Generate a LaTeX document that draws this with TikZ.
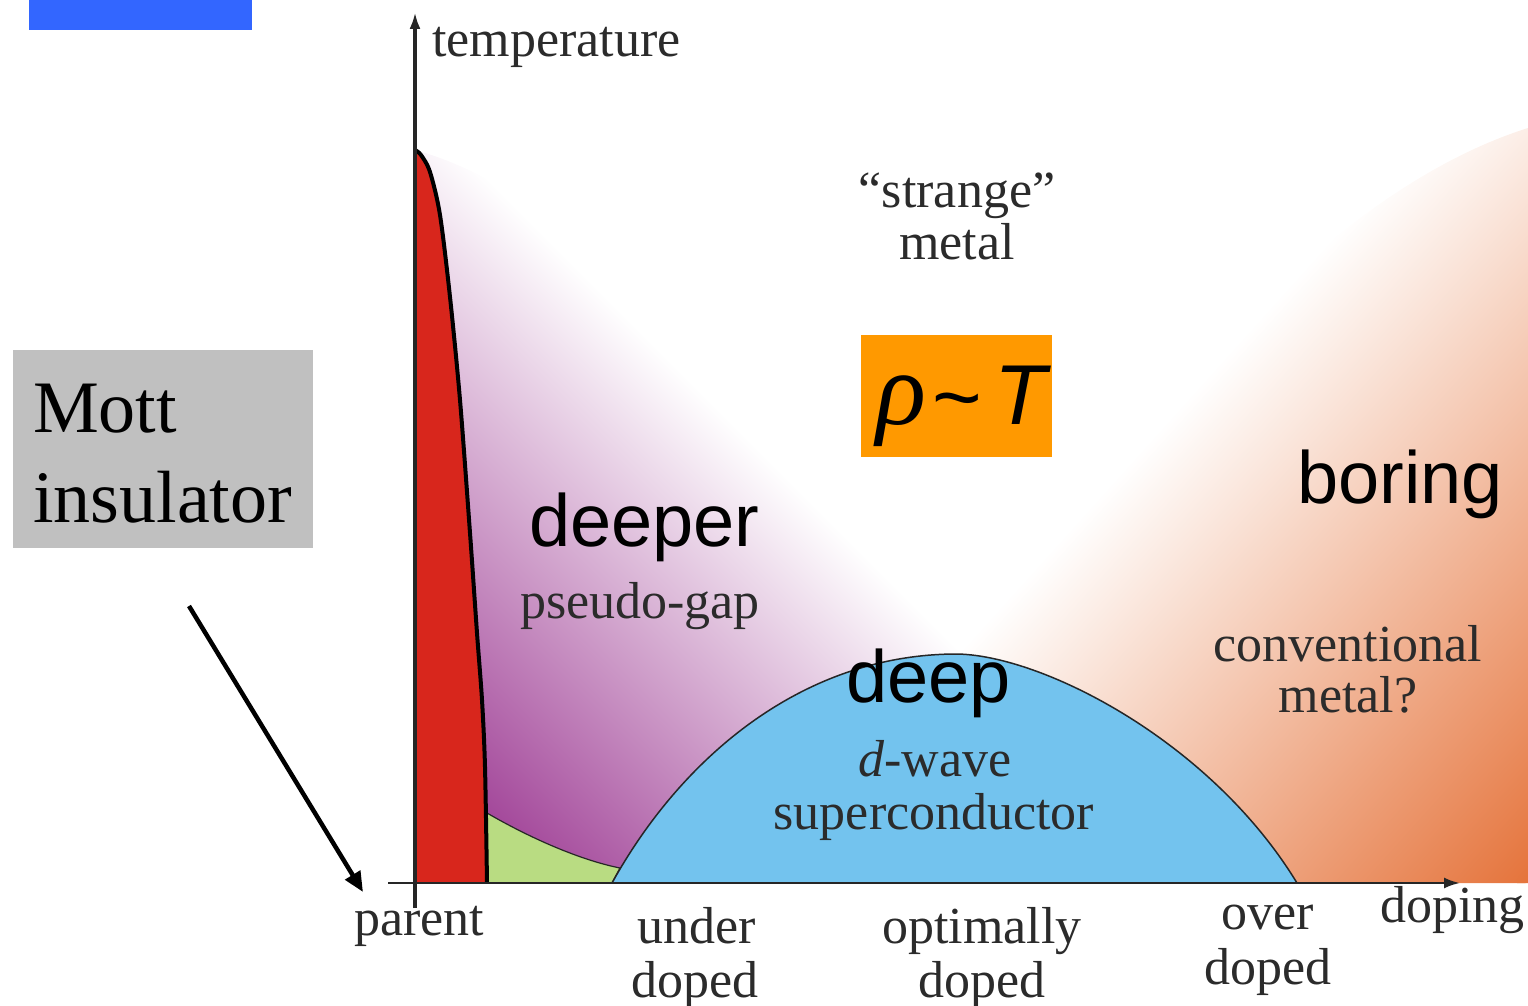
\documentclass[tikz,border=0pt]{standalone}
\usepackage{fontspec}
\setmainfont{Liberation Serif}
\newfontfamily\sansf{Liberation Sans}
\usetikzlibrary{arrows.meta}
\definecolor{blueC}{HTML}{3366FF}
\definecolor{grayC}{HTML}{C0C0C0}
\definecolor{orangeBox}{HTML}{FF9900}
\definecolor{redC}{HTML}{D8261C}
\definecolor{greenC}{HTML}{B9DC82}
\definecolor{domeC}{HTML}{73C3EE}
\definecolor{purpC}{HTML}{A3479A}
\definecolor{orC}{HTML}{E5743C}
\definecolor{txt}{HTML}{2B2B2B}
\definecolor{edgeC}{HTML}{262626}
\begin{document}
\begin{tikzpicture}[x=1pt,y=-1pt,
  figtext/.style={text=txt, font=\fontsize{52}{52}\selectfont, inner sep=0pt, anchor=base},
  bigsans/.style={font=\sansf\fontsize{74}{74}\selectfont, inner sep=0pt, anchor=base west},
  bigserif/.style={font=\fontsize{74}{74}\selectfont, inner sep=0pt, anchor=base west},
  plainbox/.style={inner sep=0pt, anchor=north west, draw=none}]
\useasboundingbox (0,0) rectangle (1528,1006);

% purple pseudo-gap region
\begin{scope}
  \clip (415,150) .. controls (600,200) and (850,480) .. (962,652) -- (962,883) -- (415,883) -- cycle;
  \fill[purpC, transform canvas={rotate around={45:(640,650)}}] (640-2200,650-1600) rectangle (640-220,650+1600);
  \shade[left color=purpC, right color=white, transform canvas={rotate around={45:(640,650)}}] (640-226,650-1600) rectangle (640+226,650+1600);
\end{scope}

% orange conventional-metal region
\begin{scope}
  \clip (955,655) .. controls (1100,480) and (1300,200) .. (1528,128) -- (1528,883) -- (955,883) -- cycle;
  \fill[orC, transform canvas={rotate around={-42:(1174,843)}}] (1174+282,843-2000) rectangle (1174+2600,843+2000);
  \shade[left color=white, right color=orC, transform canvas={rotate around={-42:(1174,843)}}] (1174-288,843-2000) rectangle (1174+288,843+2000);
\end{scope}

% green region
\filldraw[fill=greenC, draw=edgeC, line width=1.2pt] (487,813) .. controls (530,838) and (580,860) .. (620,868) -- (612,883) -- (487,883) -- cycle;

% superconducting dome
\fill[domeC] (612,883) .. controls (680,760) and (800,655) .. (955,654) .. controls (1040,654) and (1210,740) .. (1297,883) -- cycle;
\draw[edgeC, line width=1.5pt] (612,883) .. controls (680,760) and (800,655) .. (955,654) .. controls (1040,654) and (1210,740) .. (1297,883);

% red antiferromagnet region
\fill[redC] (415,150) -- (415,883) -- plot[smooth] coordinates {(487,883) (485,767) (482,700) (477,633) (470,533) (460,400) (450,297) (440,215) (430,172) (421,155) (415,150)} -- cycle;
\draw[black, line width=4pt] plot[smooth] coordinates {(487,883) (485,767) (482,700) (477,633) (470,533) (460,400) (450,297) (440,215) (430,172) (421,155) (415,150)};

% axes
\coordinate (xa0) at (388,883);
\coordinate (xa1) at (1460,883);
\coordinate (ya0) at (415,908);
\coordinate (ya1) at (415,12);
\draw[line width=2.5pt, color=edgeC, -{Latex[length=16pt,width=11pt]}] (xa0) -- (xa1);
\draw[line width=3.5pt, color=edgeC, -{Latex[length=17pt,width=11pt]}] (ya0) -- (ya1);

% boxes
\node (bluebar) [plainbox, fill=blueC, minimum width=223pt, minimum height=30pt] at (29,0) {};
\node (mottbox) [plainbox, fill=grayC, minimum width=300pt, minimum height=198pt] at (13,350) {};
\node (rhobox) [plainbox, fill=orangeBox, minimum width=191pt, minimum height=122pt] at (861,335) {};

% Mott arrow
\coordinate (ma0) at (189,606);
\coordinate (ma1) at (363,892);
\draw[line width=4.5pt, black, -{Triangle[length=20pt,width=17pt]}] (ma0) -- (ma1);

% texts in the figure
\node (temp) [figtext, anchor=base west] at (432,57) {temperature};
\node (strange) [figtext] at (957,207) {“strange”};
\node (metal) [figtext] at (957,259) {metal};
\node (pg) [figtext] at (640,618) {pseudo-gap};
\node (dwave) [figtext] at (935,776) {\textit{d}-wave};
\node (sc) [figtext] at (934,829) {superconductor};
\node (conv) [figtext] at (1348,661) {conventional};
\node (metalq) [figtext] at (1348,712) {metal?};
\node (parent) [figtext, anchor=base west] at (354,935) {parent};
\node (under) [figtext] at (697,943) {under};
\node (ud) [figtext] at (695,997) {doped};
\node (opt) [figtext] at (982,943) {optimally};
\node (od) [figtext] at (982,997) {doped};
\node (over) [figtext] at (1268,929) {over};
\node (ovd) [figtext] at (1268,984) {doped};
\node (doping) [figtext, anchor=base west] at (1380,922) {doping};

% overlay texts
\node (mott) [bigserif] at (33,432) {Mott};
\node (insul) [bigserif] at (33,522) {insulator};
\node (deeper) [bigsans] at (529,546) {deeper};
\node (deep) [bigsans] at (846,702) {deep};
\node (boring) [bigsans] at (1297,503) {boring};
\node (rho) [inner sep=0pt, anchor=base west, font=\itshape\fontsize{104}{104}\selectfont] at (876,424) {ρ};
\node (tilde) [inner sep=0pt, anchor=base west, font=\sansf\fontsize{85}{85}\selectfont] at (932,426) {\textasciitilde};
\node (tT) [inner sep=0pt, anchor=base west, font=\sansf\itshape\fontsize{85}{85}\selectfont] at (994,424) {T};
\end{tikzpicture}
\end{document}
